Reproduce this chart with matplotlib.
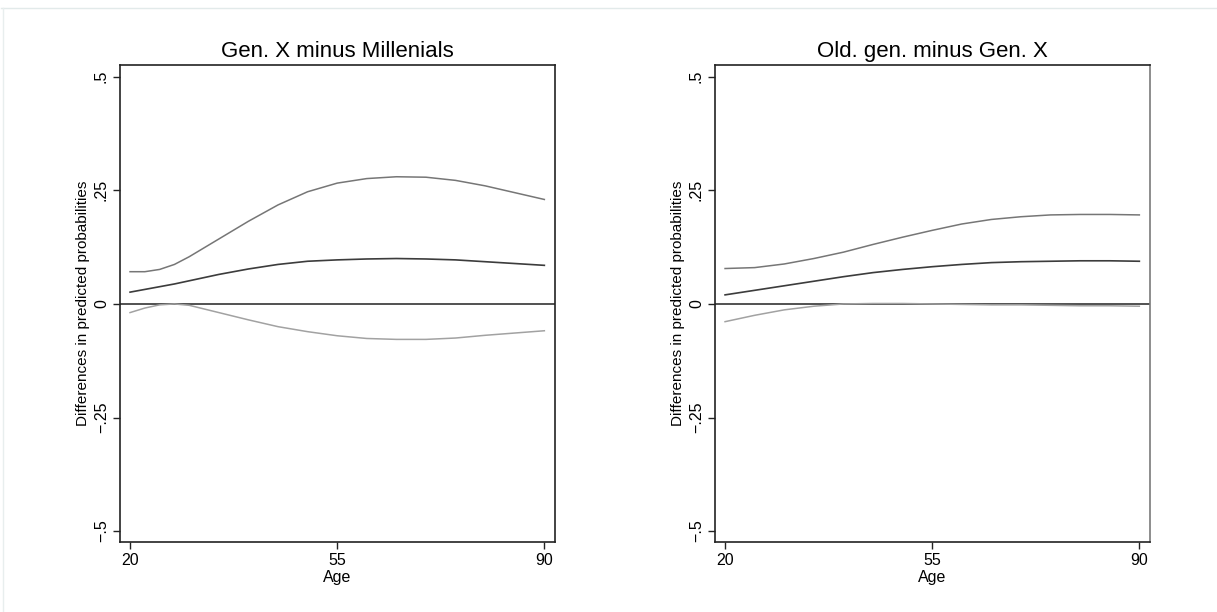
import matplotlib
matplotlib.use("Agg")
import matplotlib.pyplot as plt
from matplotlib.lines import Line2D

plt.rcParams['font.family'] = ['Liberation Sans', 'DejaVu Sans']

ages = [20, 22.5, 25, 27.5, 30, 35, 40, 45, 50, 55, 60, 65, 70, 75, 80, 85, 90]

# Gen. X minus Millenials
gx_upper = [0.071, 0.071, 0.076, 0.087, 0.104, 0.143, 0.182, 0.218, 0.247, 0.266,
            0.276, 0.280, 0.279, 0.272, 0.260, 0.245, 0.230]
gx_mid = [0.026, 0.032, 0.038, 0.044, 0.051, 0.065, 0.077, 0.087, 0.094, 0.097,
          0.099, 0.100, 0.099, 0.097, 0.093, 0.089, 0.085]
gx_lower = [-0.019, -0.009, -0.002, 0.000, -0.003, -0.019, -0.035, -0.050, -0.061, -0.070,
            -0.076, -0.078, -0.078, -0.075, -0.069, -0.064, -0.059]

# Old. gen. minus Gen. X
og_upper = [0.078, 0.079, 0.080, 0.084, 0.088, 0.100, 0.114, 0.131, 0.147, 0.162,
            0.176, 0.186, 0.192, 0.196, 0.197, 0.197, 0.196]
og_mid = [0.020, 0.025, 0.030, 0.035, 0.040, 0.050, 0.060, 0.069, 0.076, 0.082,
          0.087, 0.091, 0.093, 0.094, 0.095, 0.095, 0.094]
og_lower = [-0.039, -0.032, -0.025, -0.019, -0.013, -0.005, 0.000, 0.001, 0.001, 0.000,
            -0.001, -0.002, -0.002, -0.003, -0.004, -0.004, -0.005]

titles = ["Gen. X minus Millenials", "Old. gen. minus Gen. X"]
xticks = [20, 55, 90]
yticks = [-0.5, -0.25, 0, 0.25, 0.5]
ylabels = ["\u2212.5", "\u2212.25", "0", ".25", ".5"]

fig = plt.figure(figsize=(12.17, 6.12), dpi=100)
ax1 = fig.add_axes([120 / 1217, 70 / 612, 435 / 1217, 477 / 612])
ax2 = fig.add_axes([715 / 1217, 70 / 612, 435 / 1217, 477 / 612])

panels = [(ax1, gx_upper, gx_mid, gx_lower), (ax2, og_upper, og_mid, og_lower)]
for i, (ax, up, mid, lo) in enumerate(panels):
    ax.axhline(0, color="#222222", lw=1.1, zorder=1)
    ax.plot(ages, up, color="#767676", lw=1.1)
    ax.plot(ages, mid, color="#3c3c3c", lw=1.2)
    ax.plot(ages, lo, color="#a2a2a2", lw=1.1)
    ax.set_xlim(18.3, 91.8)
    ax.set_ylim(-0.524, 0.526)
    ax.set_xticks(xticks)
    ax.set_yticks(yticks)
    ax.set_yticklabels(ylabels, rotation=90, va="center")
    ax.tick_params(direction="out", length=5, width=1, color="#222222",
                   labelsize=11.5, pad=3)
    ax.set_title(titles[i], fontsize=16, pad=6)
    ax.set_xlabel("Age", fontsize=11.5, labelpad=1.5)
    ax.set_ylabel("Differences in predicted probabilities", fontsize=11, labelpad=3)
    for s in ax.spines.values():
        s.set_linewidth(1.2)
        s.set_color("#222222")
ax2.spines["right"].set_color("#7a7a7a")

# faint outer frame
fig.add_artist(Line2D([1 / 1217, 1], [1 - 8 / 612, 1 - 8 / 612], color="#e2eaea", lw=1))
fig.add_artist(Line2D([3 / 1217, 3 / 1217], [0, 1 - 8 / 612], color="#e8eeee", lw=1))

fig.savefig("out.png", dpi=100)
